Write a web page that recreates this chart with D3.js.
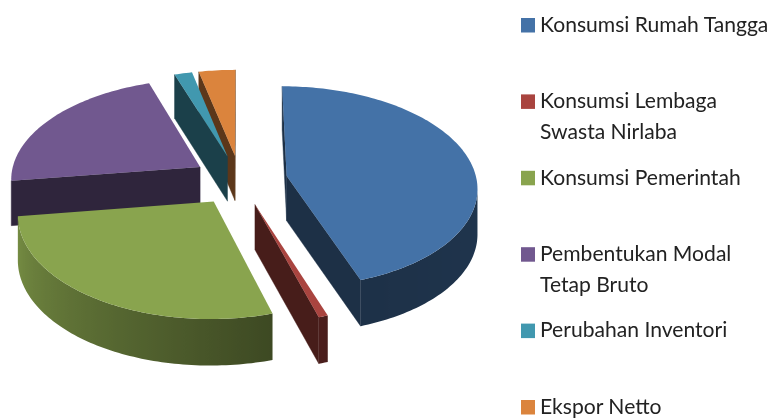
<!DOCTYPE html>
<html lang="en">
<head>
<meta charset="UTF-8">
<title>Komponen Pengeluaran</title>
<script src="https://cdn.jsdelivr.net/npm/d3@7"></script>
<style>
	html, body { margin: 0; padding: 0; background: #fff; overflow: hidden; }
	svg { display: block; filter: blur(0.4px); }
	svg text { font-family: "Lato"; font-size: 21.1px; fill: #222; }
</style>
</head>
<body>
<div id="viz"></div>
<script>
	// shares in percent
	const categories = ['Konsumsi Rumah Tangga', 'Konsumsi Lembaga Swasta Nirlaba', 'Konsumsi Pemerintah',
		'Pembentukan Modal Tetap Bruto', 'Perubahan Inventori', 'Ekspor Netto'];
	const values = [44.7, 0.7, 27.4, 22.0, 1.7, 3.5];
	const legendLines = [['Konsumsi Rumah Tangga'], ['Konsumsi Lembaga', 'Swasta Nirlaba'], ['Konsumsi Pemerintah'],
		['Pembentukan Modal', 'Tetap Bruto'], ['Perubahan Inventori'], ['Ekspor Netto']];
	const colors = ['#4472a7', '#a9443f', '#89a44e', '#71588f', '#4198af', '#db843d'];

	const width = 772, height = 418;

	// fake 3d: plane seen from above with a bit of perspective
	const cx = 240, cy = 180, rx = 190, ry = 100, persp = 0.107;
	const explode = 0.25, depth = 45;
	const paintOrder = [3, 5, 4, 2, 1, 0];

	const svg = d3.select('#viz').append('svg')
		.attr('width', width)
		.attr('height', height);
	const defs = svg.append('defs');

	const color = d3.scaleOrdinal().domain(categories).range(colors);

	const slices = d3.pie().sort(null).value(d => d)(values);

	// side walls go darker towards the right of the pie
	const rimShade = d3.scaleLinear().domain([90, 160, 270]).range([0.47, 0.43, 0.9]).clamp(true);
	const wallShade = 0.42;

	function project(x, z, down) {
		const w = 1 + persp * z;
		// wall height barely changes with distance
		return [cx + rx * x / w, cy - ry * z / w + (down ? depth / (1 + persp * z * 0.25) : 0)];
	}

	function shade(c, k) {
		const o = d3.rgb(c);
		return d3.rgb(o.r * k, o.g * k, o.b * k).formatHex();
	}

	// signed area, only faces turned to the viewer get drawn
	function facing(pts) {
		return d3.polygonArea(pts) > 0;
	}

	const line = d3.line();
	const chart = svg.append('g').attr('class', 'pie');

	paintOrder.forEach(i => {
		const s = slices[i];
		const c = color(categories[i]);
		const mid = (s.startAngle + s.endAngle) / 2;
		const ox = explode * Math.sin(mid);
		const oz = explode * Math.cos(mid);
		const g = chart.append('g');

		const steps = Math.max(2, Math.ceil((s.endAngle - s.startAngle) / 0.02));
		const angles = d3.range(steps + 1).map(k => s.startAngle + (s.endAngle - s.startAngle) * k / steps);
		const rimAt = (a, down) => project(ox + Math.sin(a), oz + Math.cos(a), down);
		const centerAt = down => project(ox, oz, down);

		// radial walls
		[s.startAngle, s.endAngle].forEach((a, k) => {
			let pts = [centerAt(false), rimAt(a, false), rimAt(a, true), centerAt(true)];
			if (k === 1) pts = pts.reverse();
			if (facing(pts)) {
				g.append('path')
					.attr('d', line(pts) + 'Z')
					.attr('fill', shade(c, wallShade))
					.attr('stroke', shade(c, wallShade))
					.attr('stroke-width', 0.4);
			}
		});

		// outer rim, only the part turned to the viewer, with a gradient along x
		const visible = angles.filter((a, k) => {
			const b = angles[Math.min(k + 1, steps)], a0 = angles[Math.max(k - 1, 0)];
			return facing([rimAt(a0, false), rimAt(b, false), rimAt(b, true), rimAt(a0, true)]);
		});
		if (visible.length > 1) {
			const xs = visible.map(a => rimAt(a, false)[0]);
			const x0 = d3.min(xs), x1 = d3.max(xs);
			const pos = d3.scaleLinear().domain([x0, x1]).range([0, 100]);
			const grad = defs.append('linearGradient')
				.attr('id', 'rim' + i)
				.attr('gradientUnits', 'userSpaceOnUse')
				.attr('x1', x0).attr('x2', x1)
				.attr('y1', 0).attr('y2', 0);
			const stops = visible.map((a, k) => ({off: pos(xs[k]), col: shade(c, rimShade(a * 180 / Math.PI))}))
				.sort((p, q) => p.off - q.off);
			grad.selectAll('stop')
				.data(stops)
				.enter().append('stop')
				.attr('offset', d => d.off + '%')
				.attr('stop-color', d => d.col);
			const pts = visible.map(a => rimAt(a, false)).concat(visible.slice().reverse().map(a => rimAt(a, true)));
			g.append('path')
				.attr('d', line(pts) + 'Z')
				.attr('fill', 'url(#rim' + i + ')');
		}

		// top
		const top = [centerAt(false)].concat(angles.map(a => rimAt(a, false)));
		g.append('path')
			.attr('d', line(top) + 'Z')
			.attr('fill', c);
	});

	// legend, rows evenly spaced
	const legendY = d3.scaleLinear().domain([0, 5]).range([18, 400]);
	const legend = svg.selectAll('.legend')
		.data(categories)
		.enter().append('g')
		.attr('class', 'legend')
		.attr('transform', (d, i) => 'translate(521,' + legendY(i) + ')');

	legend.append('rect')
		.attr('width', 14)
		.attr('height', 14.5)
		.attr('fill', d => color(d));

	legend.each(function (d, i) {
		d3.select(this).selectAll('text')
			.data(legendLines[i])
			.enter().append('text')
			.attr('x', 19)
			.attr('y', (t, k) => 13.7 + k * 31)
			.text(t => t);
	});
</script>
</body>
</html>
